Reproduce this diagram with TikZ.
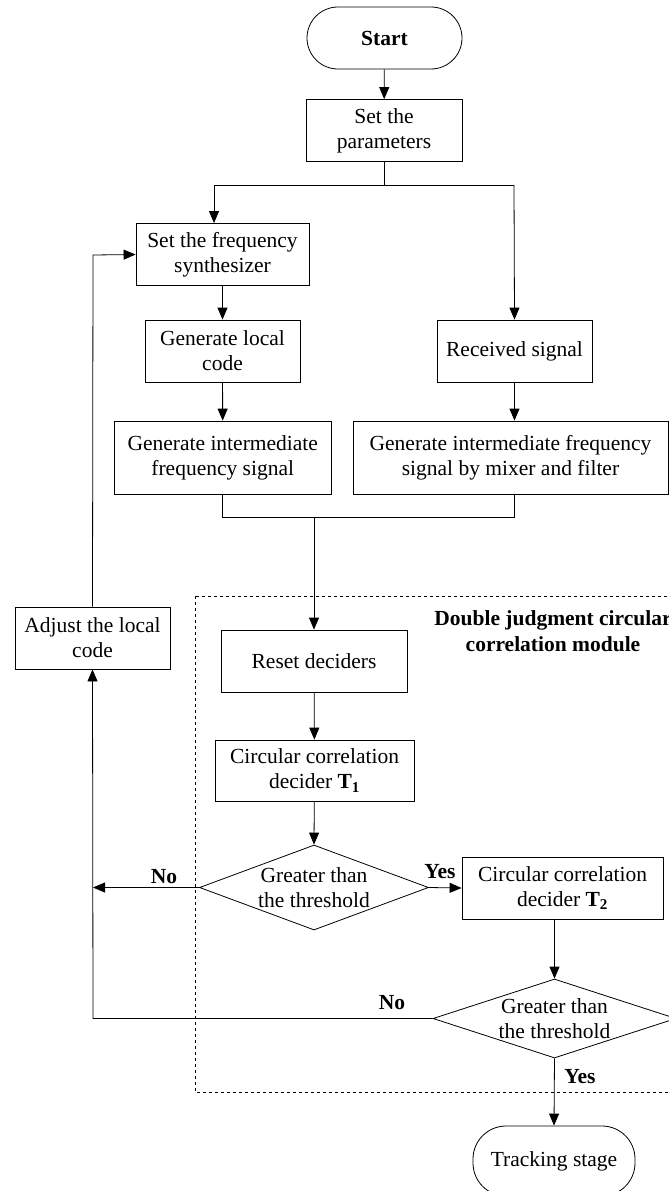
\documentclass[tikz,border=0pt]{standalone}
\usepackage{fontspec}
\setmainfont{Liberation Serif}
\usetikzlibrary{arrows.meta,shapes.geometric}
\begin{document}
\begin{tikzpicture}[x=1pt,y=-1pt,
  every node/.style={font=\fontsize{21.5}{25}\selectfont, align=center, inner sep=0pt},
  box/.style={draw, line width=0.8pt, minimum width=#1, minimum height=62pt},
  term/.style={draw, line width=0.8pt, rounded corners=31pt, minimum width=#1, minimum height=62pt},
  dec/.style={draw, line width=0.8pt, diamond, aspect=#1},
  line/.style={line width=0.8pt},
  arr/.style={line width=0.8pt, -{Triangle[length=12pt,width=10pt]}},
  lab/.style={font=\fontsize{21.5}{26}\selectfont\bfseries}]
\useasboundingbox (0,0) rectangle (669,1191);
% dashed module box
\draw[dashed, line width=0.6pt] (195,596) rectangle (700,1092);
\node[lab, align=center] (title) at (553,631) {Double judgment circular\\correlation module};
% nodes
\node[term=155pt] (start) at (384.5,38) {\textbf{Start}};
\node[box=156pt] (params) at (384,130.5) {Set the\\parameters};
\node[box=173pt] (freq) at (222.5,254.5) {Set the frequency\\synthesizer};
\node[box=155pt] (local) at (222.5,351) {Generate local\\code};
\node[box=217pt, minimum height=73pt] (ifl) at (222.75,457.5) {Generate intermediate\\frequency signal};
\node[box=155pt] (recv) at (514.5,351) {Received signal};
\node[box=315pt, minimum height=73pt] (ifr) at (510.5,457.5) {Generate intermediate frequency\\signal by mixer and filter};
\node[box=155pt] (adjust) at (92.5,638) {Adjust the local\\code};
\node[box=186pt] (reset) at (314,661) {Reset deciders};
\node[box=199pt, minimum height=61pt] (t1) at (314.5,770.5) {Circular correlation\\decider \textbf{T\textsubscript{1}}};
\node[box=201pt] (t2) at (562.5,888) {Circular correlation\\decider \textbf{T\textsubscript{2}}};
\node[term=162pt, minimum height=70pt, rounded corners=33pt] (track) at (554,1161) {Tracking stage};
% diamonds drawn as shapes with separate text
\node[dec=2.69, minimum width=229pt, minimum height=85pt] (d1) at (314,887.5) {};
\node (d1t) at (314,887.5) {Greater than\\the threshold};
\node[dec=3.08, minimum width=243pt, minimum height=79pt] (d2) at (554.5,1018.5) {};
\node (d2t) at (554.5,1018.5) {Greater than\\the threshold};
% helper coordinates
\coordinate (split) at (384,185);
\coordinate (splitL) at (214,185);
\coordinate (splitR) at (514,185);
\coordinate (mergeL) at (222.75,517);
\coordinate (mergeR) at (514,517);
\coordinate (merge) at (314,517);
\coordinate (loopTop) at (93,255);
\coordinate (noEnd) at (93,887.5);
\coordinate (loopBot) at (93,1018.5);
% connectors
\draw[arr] (start) -- (params);
\draw[line] (params.south) -- (split);
\draw[line] (splitL) -- (splitR);
\draw[arr] (splitL) -- (splitL |- freq.north);
\draw[arr] (splitR) -- (recv.north);
\draw[arr] (freq) -- (local);
\draw[arr] (local) -- (ifl);
\draw[arr] (recv) -- (ifr.north -| recv);
\draw[line] (ifl.south) -- (mergeL) -- (mergeR) -- (ifr.south -| mergeR);
\draw[arr] (merge) -- (reset.north);
\draw[arr] (reset) -- (t1);
\draw[arr] (t1) -- (d1.north);
\draw[arr] (d1.east) -- (t2.west);
\draw[arr] (d1.west) -- (noEnd);
\draw[arr] (t2.south -| d2.north) -- (d2.north);
\draw[arr] (d2.west) -- (loopBot) -- (adjust.south);
\draw[arr] (adjust.north) -- (loopTop) -- (freq.west);
\draw[arr] (d2.south) -- (track.north);
% labels
\node[lab] (no1) at (164,877) {No};
\node[lab] (yes1) at (440,872) {Yes};
\node[lab] (no2) at (392,1003) {No};
\node[lab] (yes2) at (580,1077) {Yes};
\end{tikzpicture}
\end{document}
